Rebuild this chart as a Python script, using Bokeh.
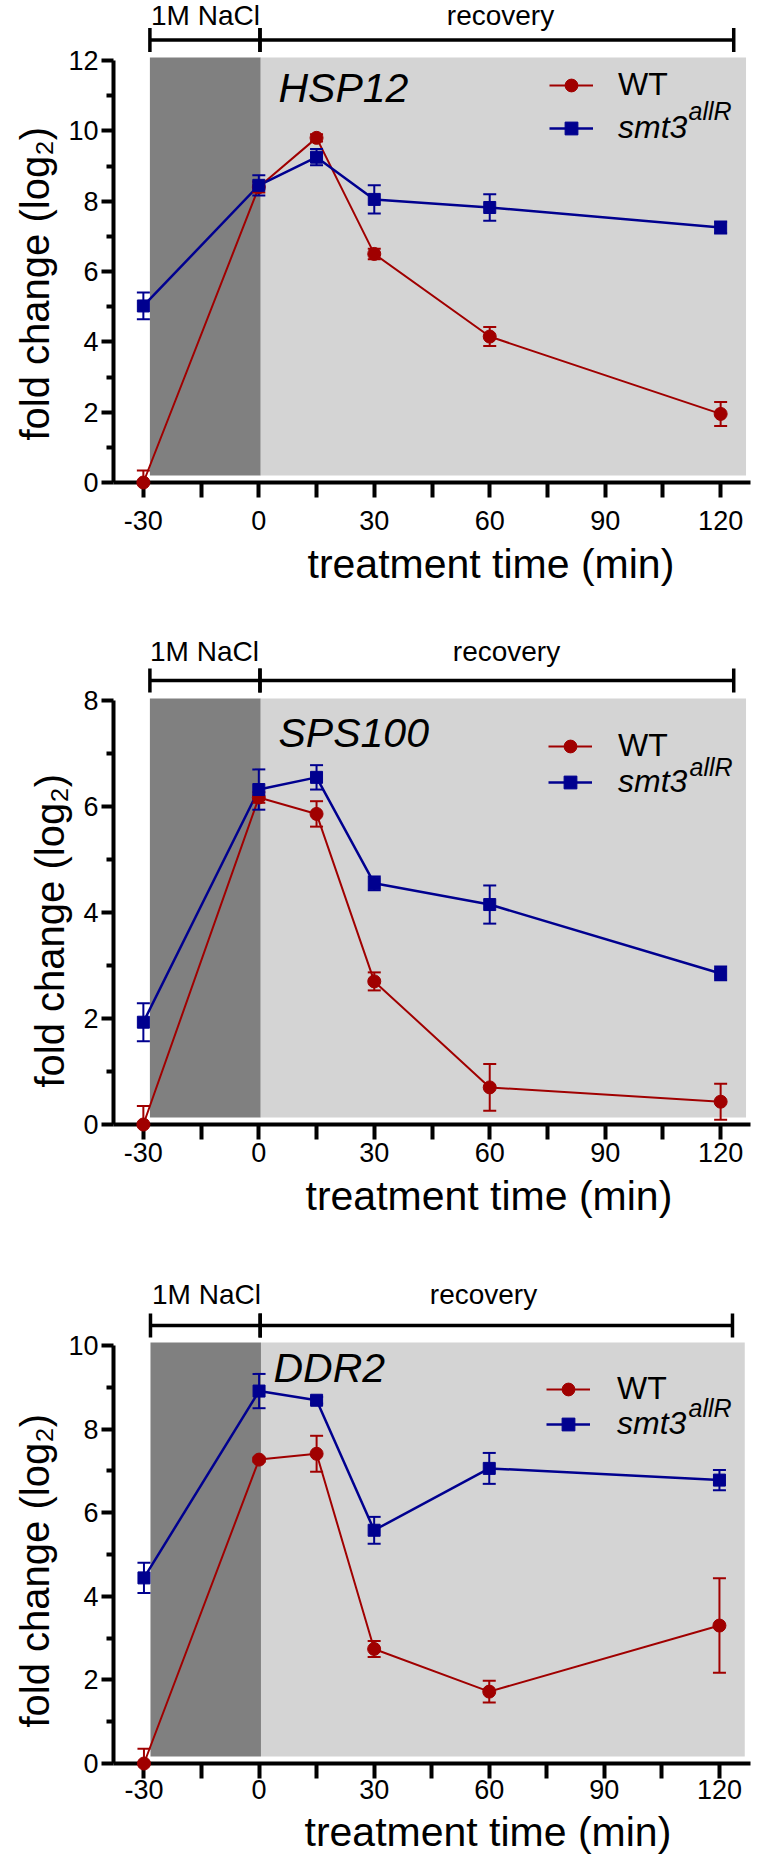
import math
from bokeh.plotting import figure
from bokeh.models import (ColumnDataSource, Whisker, TeeHead, FixedTicker, Label, Title,
                          Legend, LegendItem, BoxAnnotation, Range1d)
from bokeh.layouts import column
from bokeh.embed import file_html
from bokeh.resources import INLINE

# ---------------- data ----------------
time_min = [-30, 0, 15, 30, 60, 120]

hsp12_wt = [0.0, 8.40, 9.80, 6.50, 4.15, 1.95]
hsp12_wt_err = [0.34, 0.15, 0.10, 0.15, 0.27, 0.34]
hsp12_smt3 = [5.02, 8.45, 9.25, 8.05, 7.82, 7.25]
hsp12_smt3_err = [0.38, 0.29, 0.23, 0.40, 0.38, 0.17]

sps100_wt = [0.0, 6.17, 5.86, 2.70, 0.70, 0.43]
sps100_wt_err = [0.35, 0.10, 0.24, 0.17, 0.44, 0.34]
sps100_smt3 = [1.93, 6.32, 6.55, 4.55, 4.15, 2.85]
sps100_smt3_err = [0.36, 0.38, 0.23, 0.13, 0.36, 0.13]

ddr2_wt = [0.0, 7.27, 7.41, 2.74, 1.72, 3.30]
ddr2_wt_err = [0.35, 0.05, 0.43, 0.19, 0.26, 1.13]
ddr2_smt3 = [4.44, 8.91, 8.69, 5.58, 7.06, 6.78]
ddr2_smt3_err = [0.36, 0.41, 0.08, 0.32, 0.37, 0.24]

gene_names = ["HSP12", "SPS100", "DDR2"]
series_names = ["WT", "smt3", "allR"]
phase_names = ["1M NaCl", "recovery"]
phase_bracket = [-28.3, 0.3, 123.4]          # treatment phases (min)
shade_salt = [-28.3, 0.5]                    # dark grey band (min)
shade_recovery = [0.5, 126.6]                # light grey band (min)

x_ticks = [-30, -15, 0, 15, 30, 45, 60, 75, 90, 105, 120]
x_tick_labels = ["-30", "", "0", "", "30", "", "60", "", "90", "", "120"]
y_ticks_hsp12 = [0, 2, 4, 6, 8, 10, 12]
y_ticks_sps100 = [0, 2, 4, 6, 8]
y_ticks_ddr2 = [0, 2, 4, 6, 8, 10]

x_title = "treatment time (min)"
y_title = "fold change (log\u2082)"

# ---------------- style / layout (page pixels) ----------------
RED = "#a00000"
BLUE = "#00008f"
DARK = "#808080"
LIGHT = "#d4d4d4"
FONT = "Liberation Sans"
PAGE_W = 757

panels = [
    dict(gene=gene_names[0], wt=hsp12_wt, wt_err=hsp12_wt_err, mt=hsp12_smt3, mt_err=hsp12_smt3_err,
         yticks=y_ticks_hsp12,
         fig_top=0, fig_bottom=620, shade_top=57, frame_bottom=482, frame_left=110, frame_right=750,
         ytop_page=60, xm30_page=140, x120_page=720, x_std=13, xt_std=13,
         title_xy=(275, 87), leg_x=546, leg_wt_y=85, leg_mt_y=128, leg_standoff=25, sup_xy=(685, 110),
         brk_y=39.5, brk_lab_y=15, nacl_x=202, rec_x=497,
         xlab_off=194, ylab_off=42),
    dict(gene=gene_names[1], wt=sps100_wt, wt_err=sps100_wt_err, mt=sps100_smt3, mt_err=sps100_smt3_err,
         yticks=y_ticks_sps100,
         fig_top=620, fig_bottom=1260, shade_top=698, frame_bottom=1124, frame_left=110, frame_right=750,
         ytop_page=700, xm30_page=140, x120_page=720, x_std=3, xt_std=12,
         title_xy=(275, 732), leg_x=545, leg_wt_y=746, leg_mt_y=782, leg_standoff=26, sup_xy=(686, 766),
         brk_y=680, brk_lab_y=651, nacl_x=201, rec_x=503,
         xlab_off=192, ylab_off=37),
    dict(gene=gene_names[2], wt=ddr2_wt, wt_err=ddr2_wt_err, mt=ddr2_smt3, mt_err=ddr2_smt3_err,
         yticks=y_ticks_ddr2,
         fig_top=1260, fig_bottom=1862, shade_top=1342, frame_bottom=1763, frame_left=113, frame_right=755,
         ytop_page=1345, xm30_page=143.7, x120_page=723.7, x_std=1, xt_std=11,
         title_xy=(273, 1367), leg_x=546, leg_wt_y=1389, leg_mt_y=1424, leg_standoff=27, sup_xy=(688, 1407),
         brk_y=1325, brk_lab_y=1294, nacl_x=206, rec_x=483,
         xlab_off=191, ylab_off=36),
]

LEG_H = 36


def build(cfg):
    ppm = (cfg["x120_page"] - cfg["xm30_page"]) / 150.0
    x0 = -30 - (cfg["xm30_page"] - cfg["frame_left"]) / ppm
    x1 = 120 + (cfg["frame_right"] - cfg["x120_page"]) / ppm
    ytop = cfg["yticks"][-1]
    fb, fl = cfg["frame_bottom"], cfg["frame_left"]
    ppu = (fb - cfg["ytop_page"]) / ytop
    y1 = (fb - cfg["fig_top"]) / ppu

    p = figure(width=PAGE_W, height=cfg["fig_bottom"] - cfg["fig_top"],
               x_range=Range1d(x0, x1), y_range=Range1d(0, y1),
               toolbar_location=None, output_backend="svg")
    p.min_border_left = fl
    p.min_border_right = PAGE_W - cfg["frame_right"]
    p.min_border_top = 0
    p.min_border_bottom = cfg["fig_bottom"] - fb
    p.outline_line_color = None
    p.xgrid.visible = False
    p.ygrid.visible = False
    p.background_fill_color = "white"
    p.border_fill_color = "white"

    # shaded treatment bands
    sb = 7.0 / ppu
    st = (fb - cfg["shade_top"]) / ppu
    p.add_layout(BoxAnnotation(left=shade_salt[0], right=shade_salt[1], bottom=sb, top=st,
                               fill_color=DARK, fill_alpha=1, line_alpha=0, level="underlay"))
    p.add_layout(BoxAnnotation(left=shade_recovery[0], right=shade_recovery[1], bottom=sb, top=st,
                               fill_color=LIGHT, fill_alpha=1, line_alpha=0, level="underlay"))

    # axes
    xa = p.xaxis[0]
    xa.ticker = FixedTicker(ticks=x_ticks)
    xa.major_label_overrides = {t: lab for t, lab in zip(x_ticks, x_tick_labels)}
    ya = p.yaxis[0]
    ya.ticker = FixedTicker(ticks=cfg["yticks"],
                            minor_ticks=[v + 1 for v in cfg["yticks"][:-1]])
    ya.bounds = (0, ytop)
    for ax in (xa, ya):
        ax.axis_line_width = 4
        ax.axis_line_color = "black"
        ax.major_tick_line_width = 4
        ax.major_tick_line_color = "black"
        ax.major_tick_in = 0
        ax.major_label_text_font = FONT
        ax.major_label_text_font_size = "27px"
        ax.major_label_text_color = "black"
    xa.major_tick_out = 15
    xa.minor_tick_line_color = None
    xa.major_label_standoff = cfg["x_std"]
    ya.major_tick_out = 12
    ya.minor_tick_in = 0
    ya.minor_tick_out = 7
    ya.minor_tick_line_width = 4
    ya.minor_tick_line_color = "black"
    ya.major_label_standoff = 3

    # axis titles
    p.add_layout(Title(text=y_title, align="left", offset=cfg["ylab_off"], standoff=18,
                       text_font=FONT, text_font_size="40px", text_font_style="normal",
                       text_color="black"), "left")
    p.add_layout(Title(text=x_title, align="left", offset=cfg["xlab_off"], standoff=cfg["xt_std"],
                       text_font=FONT, text_font_size="41px", text_font_style="normal",
                       text_color="black"), "below")

    # series
    rends = []
    for vals, errs, col, marker, size, lw in ((cfg["wt"], cfg["wt_err"], RED, "circle", 13, 2),
                                             (cfg["mt"], cfg["mt_err"], BLUE, "square", 12, 2.5)):
        src = ColumnDataSource(dict(t=time_min, v=vals,
                                    lo=[v - e for v, e in zip(vals, errs)],
                                    hi=[v + e for v, e in zip(vals, errs)]))
        lr = p.line("t", "v", source=src, line_color=col, line_width=lw)
        p.add_layout(Whisker(source=src, base="t", lower="lo", upper="hi",
                             line_color=col, line_width=2, level="glyph",
                             upper_head=TeeHead(size=13, line_color=col, line_width=2),
                             lower_head=TeeHead(size=13, line_color=col, line_width=2)))
        mr = p.scatter("t", "v", source=src, marker=marker, size=size,
                       fill_color=col, line_color=col, level="annotation")
        rends.append((lr, mr))

    # legends (two, so that only the mutant name is italic)
    for (lr, mr), name, yc, style in ((rends[0], series_names[0], cfg["leg_wt_y"], "normal"),
                                      (rends[1], series_names[1], cfg["leg_mt_y"], "italic")):
        leg = Legend(items=[LegendItem(label=name, renderers=[lr, mr])],
                     location=(cfg["leg_x"] - fl, fb - yc - LEG_H / 2),
                     padding=0, margin=0, spacing=0,
                     border_line_alpha=0, background_fill_alpha=0,
                     glyph_width=44, glyph_height=32, label_height=32,
                     label_standoff=cfg["leg_standoff"],
                     label_text_font=FONT, label_text_font_size="32px",
                     label_text_font_style=style, label_text_color="black")
        p.add_layout(leg)
    sx, sy = cfg["sup_xy"]
    p.add_layout(Label(x=sx - fl, y=fb - sy, x_units="screen", y_units="screen",
                       text=series_names[2], text_font=FONT, text_font_size="25px",
                       text_font_style="italic", text_baseline="middle", text_align="left",
                       text_color="black"))

    # gene title
    tx, ty = cfg["title_xy"]
    p.add_layout(Label(x=tx - fl, y=fb - ty, x_units="screen", y_units="screen",
                       text=cfg["gene"], text_font=FONT, text_font_size="41px",
                       text_font_style="italic", text_baseline="middle", text_align="left",
                       text_color="black"))

    # phase bracket above the data area
    by = (fb - cfg["brk_y"]) / ppu
    bsrc = ColumnDataSource(dict(b=[by, by], lo=phase_bracket[:2], hi=phase_bracket[1:]))
    p.add_layout(Whisker(source=bsrc, base="b", lower="lo", upper="hi", dimension="width",
                         line_color="black", line_width=3.5,
                         upper_head=TeeHead(size=24, line_color="black", line_width=3.5),
                         lower_head=TeeHead(size=24, line_color="black", line_width=3.5)))
    for name, xc in ((phase_names[0], cfg["nacl_x"]), (phase_names[1], cfg["rec_x"])):
        p.add_layout(Label(x=xc - fl, y=fb - cfg["brk_lab_y"], x_units="screen", y_units="screen",
                           text=name, text_font=FONT, text_font_size="28px",
                           text_baseline="middle", text_align="center", text_color="black"))
    return p


figs = [build(c) for c in panels]
layout = column(*figs, spacing=0)
open("out.html", "w").write(file_html(layout, INLINE))
